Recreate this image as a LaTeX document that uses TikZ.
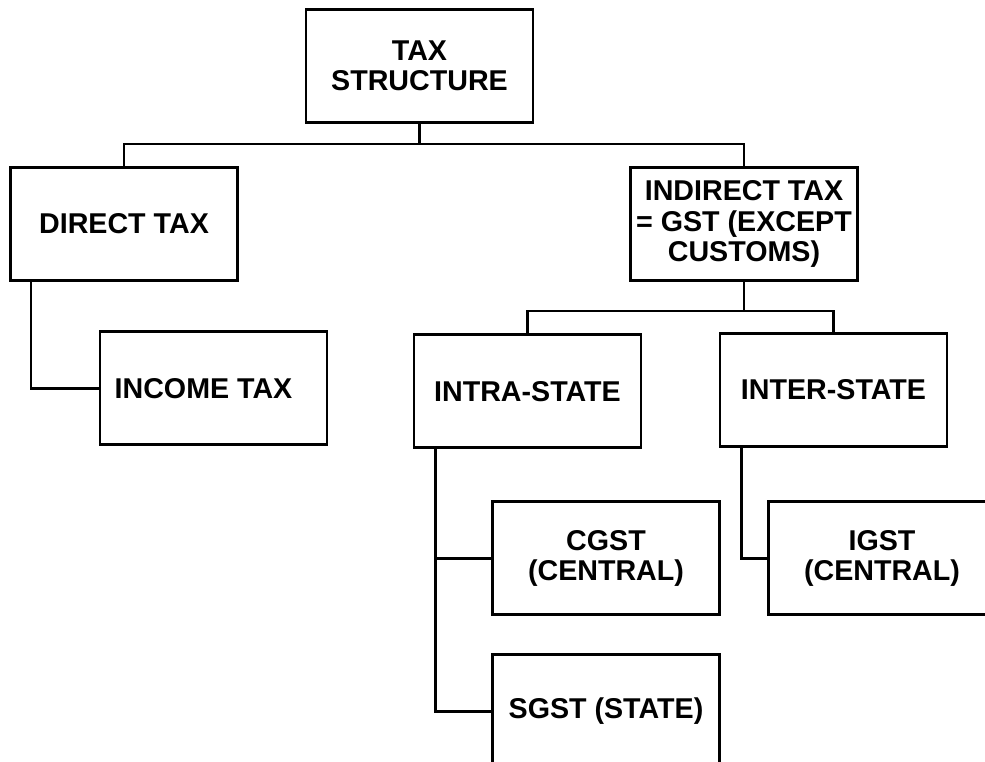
\documentclass[tikz,border=0pt]{standalone}
\usepackage{fontspec}
\setsansfont{Liberation Sans}
\usetikzlibrary{calc}
\def\taxnode{\node[draw=black,line width=0.85pt,minimum width=22.7mm,minimum height=11.3mm,inner sep=0.3mm,align=center,font=\sffamily\bfseries\fontsize{8.15}{8.55}\selectfont]}
\def\drawlink{\draw[line width=0.75pt]}

\begin{document}
\begin{tikzpicture}[x=0.1mm,y=-0.1mm]
\useasboundingbox (0,0) rectangle (985,762);
\clip (0,0) rectangle (985,762);
\taxnode (tax) at (419.5,66) {TAX\\STRUCTURE};
\taxnode (direct) at (124,224) {DIRECT TAX};
\taxnode (indirect) at (744,224) {INDIRECT TAX\\= GST (EXCEPT\\CUSTOMS)};
\taxnode (income) at (213.5,388.5) {INCOME TAX\hspace{2mm}};
\taxnode (intra) at (527.5,391.5) {INTRA-STATE};
\taxnode (inter) at (833.5,390) {INTER-STATE};
\taxnode (cgst) at (606,558.5) {CGST\\(CENTRAL)};
\taxnode (igst) at (882,558.5) {IGST\\(CENTRAL)};
\taxnode (sgst) at (606,711.5) {SGST (STATE)};
% tree links
\drawlink (tax.south) -- ++(0,20) -| (direct.north);
\drawlink (tax.south) -- ++(0,20) -| (indirect.north);
\drawlink (indirect.south) -- ++(0,29) -| (intra.north);
\drawlink (indirect.south) -- ++(0,29) -| (inter.north);
\drawlink ([xshift=2.2mm]direct.south west) |- (income.west);
\drawlink ([xshift=2.3mm]intra.south west) |- (cgst.west);
\drawlink ([xshift=2.3mm]intra.south west) |- (sgst.west);
\drawlink ([xshift=2.3mm]inter.south west) |- (igst.west);
\end{tikzpicture}
\end{document}
